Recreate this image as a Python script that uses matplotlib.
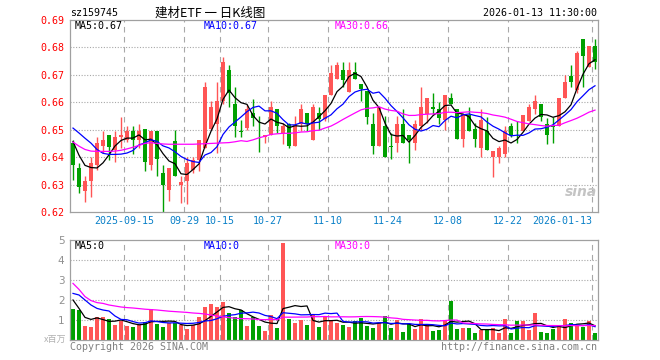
import numpy as np
import pandas as pd
import matplotlib
matplotlib.use("Agg")
import matplotlib.pyplot as plt

# daily candles, 2025-09-02 .. 2026-01-13 (88 trading days)
open_ = [0.6453, 0.6360, 0.6278, 0.6312, 0.6370, 0.6441, 0.6482, 0.6426, 0.6473, 0.6463,
         0.6494, 0.6463, 0.6502, 0.6370, 0.6494, 0.6342, 0.6280, 0.6460, 0.6300, 0.6312,
         0.6352, 0.6391, 0.6432, 0.6502, 0.6522, 0.6605, 0.6716, 0.6593, 0.6495, 0.6506,
         0.6562, 0.6515, 0.6473, 0.6481, 0.6574, 0.6488, 0.6522, 0.6441, 0.6522, 0.6562,
         0.6463, 0.6562, 0.6540, 0.6626, 0.6685, 0.6716, 0.6636, 0.6710, 0.6667, 0.6642,
         0.6522, 0.6441, 0.6515, 0.6439, 0.6451, 0.6522, 0.6481, 0.6451, 0.6515, 0.6556,
         0.6584, 0.6574, 0.6535, 0.6614, 0.6574, 0.6465, 0.6552, 0.6502, 0.6435, 0.6494,
         0.6401, 0.6401, 0.6411, 0.6515, 0.6492, 0.6494, 0.6531, 0.6577, 0.6593, 0.6522,
         0.6515, 0.6515, 0.6614, 0.6695, 0.6646, 0.6831, 0.6728, 0.6806]
high = [0.6463, 0.6380, 0.6330, 0.6401, 0.6473, 0.6494, 0.6482, 0.6494, 0.6545, 0.6515,
        0.6515, 0.6522, 0.6502, 0.6494, 0.6494, 0.6370, 0.6360, 0.6500, 0.6333, 0.6401,
        0.6400, 0.6463, 0.6673, 0.6605, 0.6673, 0.6765, 0.6737, 0.6655, 0.6537, 0.6590,
        0.6611, 0.6549, 0.6481, 0.6605, 0.6574, 0.6525, 0.6525, 0.6549, 0.6593, 0.6562,
        0.6593, 0.6584, 0.6626, 0.6735, 0.6747, 0.6747, 0.6747, 0.6747, 0.6667, 0.6642,
        0.6562, 0.6584, 0.6549, 0.6488, 0.6549, 0.6577, 0.6481, 0.6535, 0.6654, 0.6614,
        0.6633, 0.6601, 0.6626, 0.6633, 0.6574, 0.6559, 0.6584, 0.6525, 0.6574, 0.6547,
        0.6422, 0.6440, 0.6515, 0.6525, 0.6531, 0.6552, 0.6593, 0.6626, 0.6593, 0.6543,
        0.6547, 0.6614, 0.6698, 0.6737, 0.6786, 0.6831, 0.6806, 0.6831]
low = [0.6315, 0.6268, 0.6235, 0.6256, 0.6352, 0.6414, 0.6389, 0.6383, 0.6432, 0.6455,
       0.6410, 0.6432, 0.6349, 0.6352, 0.6330, 0.6200, 0.6241, 0.6330, 0.6232, 0.6228,
       0.6343, 0.6349, 0.6432, 0.6500, 0.6414, 0.6593, 0.6584, 0.6473, 0.6473, 0.6500,
       0.6512, 0.6420, 0.6451, 0.6481, 0.6488, 0.6448, 0.6432, 0.6441, 0.6494, 0.6494,
       0.6463, 0.6500, 0.6530, 0.6626, 0.6685, 0.6654, 0.6636, 0.6685, 0.6605, 0.6522,
       0.6412, 0.6441, 0.6401, 0.6395, 0.6420, 0.6451, 0.6379, 0.6426, 0.6500, 0.6525,
       0.6556, 0.6522, 0.6500, 0.6593, 0.6465, 0.6438, 0.6494, 0.6438, 0.6399, 0.6426,
       0.6327, 0.6379, 0.6400, 0.6473, 0.6453, 0.6494, 0.6531, 0.6559, 0.6531, 0.6448,
       0.6450, 0.6515, 0.6614, 0.6654, 0.6633, 0.6654, 0.6728, 0.6722]
close = [0.6370, 0.6290, 0.6312, 0.6380, 0.6451, 0.6463, 0.6436, 0.6473, 0.6481, 0.6494,
         0.6463, 0.6494, 0.6383, 0.6494, 0.6393, 0.6300, 0.6360, 0.6333, 0.6311, 0.6379,
         0.6391, 0.6463, 0.6654, 0.6584, 0.6605, 0.6747, 0.6633, 0.6515, 0.6493, 0.6574,
         0.6543, 0.6513, 0.6481, 0.6584, 0.6515, 0.6515, 0.6441, 0.6518, 0.6574, 0.6522,
         0.6584, 0.6540, 0.6626, 0.6707, 0.6737, 0.6683, 0.6716, 0.6685, 0.6648, 0.6547,
         0.6441, 0.6584, 0.6401, 0.6437, 0.6522, 0.6451, 0.6463, 0.6522, 0.6584, 0.6614,
         0.6574, 0.6543, 0.6626, 0.6593, 0.6465, 0.6559, 0.6494, 0.6465, 0.6535, 0.6426,
         0.6422, 0.6435, 0.6494, 0.6481, 0.6490, 0.6552, 0.6584, 0.6605, 0.6547, 0.6481,
         0.6510, 0.6614, 0.6675, 0.6675, 0.6778, 0.6769, 0.6806, 0.6747]
# volume, millions
volume = [1.55, 1.50, 0.70, 0.65, 1.13, 1.13, 1.05, 0.75, 0.95, 0.70,
          0.65, 0.75, 0.90, 1.55, 0.80, 0.65, 0.83, 0.83, 0.75, 0.55,
          0.75, 1.15, 1.65, 1.80, 1.65, 1.90, 1.33, 1.13, 1.50, 0.70,
          1.13, 0.70, 0.45, 1.23, 0.60, 4.87, 1.05, 0.85, 1.00, 0.75,
          1.23, 0.65, 1.20, 1.00, 0.85, 0.75, 0.65, 0.95, 1.10, 0.70,
          0.60, 0.85, 1.20, 0.60, 1.00, 0.40, 0.80, 0.55, 1.05, 0.75,
          0.45, 0.50, 1.00, 1.97, 0.55, 0.60, 0.60, 0.35, 0.50, 0.55,
          0.60, 0.35, 1.05, 0.35, 0.95, 0.95, 0.50, 1.35, 0.40, 0.35,
          0.55, 0.75, 1.05, 0.85, 0.75, 0.65, 0.95, 0.35]

# moving-average values at the start of the window (history before 09-02 not shown)
ma5_head = [0.6457, 0.6407, 0.6370, 0.6362]
ma10_head = [0.6506, 0.6488, 0.6469, 0.6451, 0.6428, 0.6414, 0.6410, 0.6410, 0.6411]
ma30_head = [0.6455, 0.6440, 0.6428, 0.6422, 0.6421, 0.6421, 0.6421, 0.6422, 0.6425, 0.6430,
             0.6436, 0.6443, 0.6450, 0.6453, 0.6450, 0.6448, 0.6447, 0.6447, 0.6447, 0.6447,
             0.6447, 0.6448, 0.6449, 0.6450, 0.6451, 0.6452, 0.6453, 0.6456, 0.6460]
vma5_head = [2.00, 1.58, 1.13, 1.03]
vma10_head = [2.33, 2.25, 2.00, 1.75, 1.58, 1.50, 1.45, 1.20, 1.03]
vma30_head = [2.83, 2.53, 2.17, 1.97, 1.87, 1.83, 1.75, 1.70, 1.65, 1.62,
              1.60, 1.57, 1.54, 1.52, 1.50, 1.47, 1.44, 1.42, 1.40, 1.38,
              1.35, 1.33, 1.30, 1.25, 1.20, 1.16, 1.12, 1.09, 1.07]

tick_idx = [9, 19, 25, 33, 43, 53, 63, 73, 87]
tick_lbl = ['2025-09-15', '09-29', '10-15', '10-27', '11-10', '11-24', '12-08', '12-22', '2026-01-13']


def moving_avg(values, n, head):
    out = pd.Series(values).rolling(n).mean().to_numpy()
    out[:len(head)] = head
    return out


RED = '#ff5555'
GREEN = '#00a000'
GRID = '#a8a8a8'
MONO = 'DejaVu Sans Mono'
CJK = ['Noto Sans CJK SC', 'DejaVu Sans']

o = np.array(open_); h = np.array(high); l = np.array(low); c = np.array(close)
v = np.array(volume)
x = np.arange(len(c))
up = c >= o
cols = np.where(up, RED, GREEN)

fig = plt.figure(figsize=(6.6, 3.6), dpi=100)
W, H = 660, 360


def fpos(px, py):
    return px / W, 1 - py / H


ax = fig.add_axes([70 / W, 1 - 212 / H, 528 / W, 192 / H])
axv = fig.add_axes([70 / W, 1 - 340 / H, 528 / W, 100 / H])

for a in (ax, axv):
    a.set_xlim(-0.5, len(c) - 0.5)
    for s in a.spines.values():
        s.set_color('#a0a0a0')
        s.set_linewidth(0.9)
    for t in tick_idx:
        a.axvline(t - 0.5, color=GRID, lw=0.8, ls=(0, (5, 4)), zorder=0)
    a.tick_params(length=0)

# price panel
ax.set_ylim(0.62, 0.69)
for yv in np.arange(0.63, 0.685, 0.01):
    ax.axhline(yv, color=GRID, lw=0.8, ls=(0, (1, 1.5)), zorder=0)
ax.vlines(x, l, h, colors=cols, lw=1, zorder=2)
body = np.maximum(np.abs(c - o), 0.00012)
ax.bar(x, body, bottom=np.minimum(o, c), width=0.8, color=cols, lw=0, zorder=3)
ax.plot(x, moving_avg(c, 5, ma5_head), color='black', lw=0.9, zorder=4)
ax.plot(x, moving_avg(c, 10, ma10_head), color='#0000ff', lw=0.9, zorder=4)
ax.plot(x, moving_avg(c, 30, ma30_head), color='#ff00ff', lw=0.9, zorder=4)
ax.set_yticks(np.round(np.arange(0.62, 0.695, 0.01), 2))
ax.set_yticklabels(['%.2f' % t for t in np.arange(0.62, 0.695, 0.01)],
                   color='red', fontfamily=MONO, fontsize=7.2)
ax.tick_params(axis='y', pad=4)
ax.set_xticks([t - 0.5 for t in tick_idx])
ax.set_xticklabels(tick_lbl, color='#0a80c8', fontfamily=MONO, fontsize=7.2)
ax.tick_params(axis='x', pad=3)
ax.get_xticklabels()[-1].set_ha('right')

# volume panel
axv.set_ylim(0, 5)
for yv in range(1, 5):
    axv.axhline(yv, color=GRID, lw=0.8, ls=(0, (1, 1.5)), zorder=0)
axv.bar(x, v, width=0.8, color=cols, lw=0, zorder=2)
axv.plot(x, moving_avg(v, 5, vma5_head), color='black', lw=0.9, zorder=3)
axv.plot(x, moving_avg(v, 10, vma10_head), color='#0000ff', lw=0.9, zorder=3)
axv.plot(x, moving_avg(v, 30, vma30_head), color='#ff00ff', lw=0.9, zorder=3)
axv.set_yticks([1, 2, 3, 4, 5])
axv.set_yticklabels(['1', '2', '3', '4', '5'], color='#909090', fontsize=7.5)
axv.tick_params(axis='y', pad=4)
axv.set_xticks([])

# texts
fig.text(*fpos(70, 13), 'sz159745', fontfamily=MONO, fontsize=7.2, va='center')
fig.text(*fpos(210, 13), '建材ETF 一 日K线图', family=CJK, fontsize=9, ha='center', va='center')
fig.text(*fpos(597, 13), '2026-01-13 11:30:00', fontfamily=MONO, fontsize=7.2, ha='right', va='center')
fig.text(*fpos(75, 26), 'MA5:0.67', fontfamily=MONO, fontsize=7.2, va='center', color='black')
fig.text(*fpos(204, 26), 'MA10:0.67', fontfamily=MONO, fontsize=7.2, va='center', color='#0000ff')
fig.text(*fpos(335, 26), 'MA30:0.66', fontfamily=MONO, fontsize=7.2, va='center', color='#ff00ff')
fig.text(*fpos(75, 246), 'MA5:0', fontfamily=MONO, fontsize=7.2, va='center', color='black')
fig.text(*fpos(204, 246), 'MA10:0', fontfamily=MONO, fontsize=7.2, va='center', color='#0000ff')
fig.text(*fpos(335, 246), 'MA30:0', fontfamily=MONO, fontsize=7.2, va='center', color='#ff00ff')
fig.text(*fpos(66, 339), 'x百万', family=CJK, fontsize=6.5, ha='right', va='center', color='#b0b0b0')
fig.text(*fpos(70, 347), 'Copyright 2026 SINA.COM', fontfamily=MONO, fontsize=7.2, va='center', color='#808080')
fig.text(*fpos(597, 347), 'http://finance.sina.com.cn', fontfamily=MONO, fontsize=7.2,
         ha='right', va='center', color='#808080')
fig.text(*fpos(581, 192), 'sina', fontsize=10, fontweight='bold', style='italic',
         ha='center', va='center', color='#c4c4c4')

fig.savefig('out.png', dpi=100)
